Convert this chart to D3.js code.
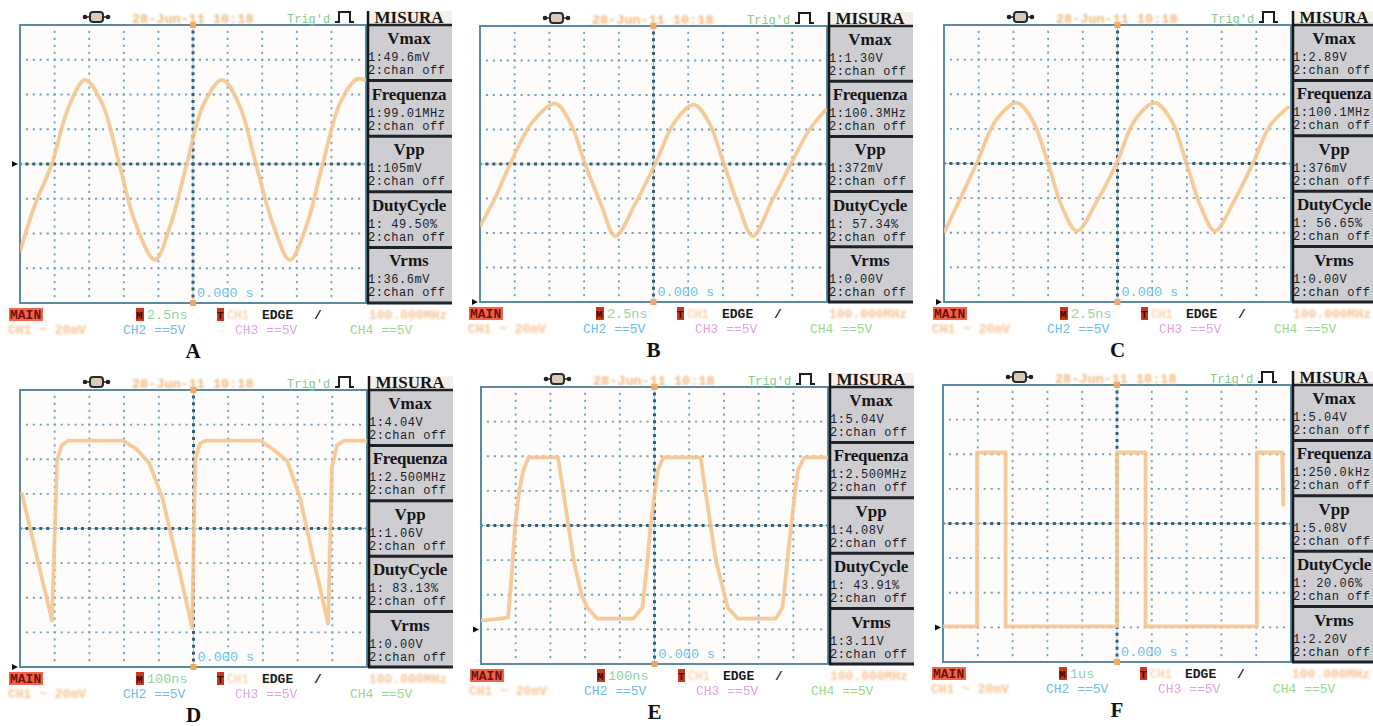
<!DOCTYPE html>
<html><head><meta charset="utf-8">
<script src="https://cdn.jsdelivr.net/npm/d3@7"></script>
<style>body{margin:0;background:#fff;} svg{display:block}</style>
</head><body>
<svg id="chart" width="1373" height="726"></svg>
<script>
// ---------- DATA ----------
const panelLabels = ["A","B","C","D","E","F"];
const timebases = ["2.5ns","2.5ns","2.5ns","100ns","100ns","1us"];
const measureTitles = ["Vmax","Frequenza","Vpp","DutyCycle","Vrms"];
const vmaxValues = ["1:49.6mV","1:1.30V","1:2.89V","1:4.04V","1:5.04V","1:5.04V"];
const freqValues = ["1:99.01MHz","1:100.3MHz","1:100.1MHz","1:2.500MHz","1:2.500MHz","1:250.0kHz"];
const vppValues = ["1:105mV","1:372mV","1:376mV","1:1.06V","1:4.08V","1:5.08V"];
const dutyValues = ["1: 49.50%","1: 57.34%","1: 56.65%","1: 83.13%","1: 43.91%","1: 20.06%"];
const vrmsValues = ["1:36.6mV","1:0.00V","1:0.00V","1:0.00V","1:3.11V","1:2.20V"];
const chanOffText = "2:chan off";
const ch1Levels = [0,-4,-4,-4,-3,-3];
const trigLevels = [0,0,0,0,0.5,0.5];
const dateText = "28-Jun-11 10:18";
const trigText = "Trig'd";
const ch2Text = "CH2 ==5V", ch3Text = "CH3 ==5V", ch4Text = "CH4 ==5V";
const ch1Text = "CH1 ~ 20mV";
const trigFreqText = "100.000MHz";
const timeText = "0.000 s";

// waveforms: [time division 0..10, vertical division -4..4]
const waveA = [[0,-2.53],[0.43,-1.18],[0.92,0],[1.39,1.6],[1.88,2.42],[2.37,1.75],[2.87,0],[3.3,-1.6],[3.9,-2.76],[4.35,-1.75],[4.82,0],[5.3,1.7],[5.84,2.42],[6.33,1.72],[6.82,0],[7.3,-1.7],[7.8,-2.76],[8.27,-1.8],[8.75,0],[9.25,1.75],[9.75,2.45],[10,2.4]];
const waveB = [[0,-1.81],[0.45,-0.95],[0.87,0],[1.5,1.2],[2.17,1.75],[2.6,1.2],[3.03,0],[3.5,-1.2],[3.9,-2.09],[4.5,-1.1],[5.05,0],[5.6,1.2],[6.16,1.72],[6.6,1.2],[7.03,0],[7.45,-1.2],[7.86,-2.09],[8.4,-1.1],[8.96,0],[9.5,1.0],[10,1.6]];
const waveC = [[0,-2.0],[0.45,-1.05],[0.94,0],[1.5,1.25],[2.1,1.75],[2.55,1.25],[3.0,0],[3.4,-1.25],[3.83,-1.95],[4.4,-1.1],[4.97,0],[5.5,1.25],[6.08,1.75],[6.55,1.25],[6.99,0],[7.4,-1.25],[7.81,-1.95],[8.35,-1.1],[8.9,0],[9.4,1.1],[9.95,1.65]];
const waveD = [[0.05,1.04],[0.92,-2.66],[1.07,1.97],[1.2,2.4],[1.4,2.54],[2.97,2.54],[3.35,2.3],[3.72,1.9],[4.1,0.9],[4.5,-0.8],[4.96,-2.86],[5.05,1.97],[5.18,2.45],[5.35,2.54],[6.92,2.54],[7.3,2.28],[7.7,1.95],[8.07,0.9],[8.45,-0.85],[8.88,-2.75],[8.99,1.76],[9.13,2.4],[9.35,2.54],[10,2.54]];
const waveE = [[0,-2.75],[0.3,-2.72],[0.78,-2.66],[0.88,-1.5],[0.98,-0.06],[1.1,1.0],[1.22,1.59],[1.37,1.97],[2.22,1.97],[2.38,0.92],[2.67,-1.01],[2.9,-2.0],[3.06,-2.37],[3.35,-2.69],[4.39,-2.69],[4.65,-2.37],[4.78,-1.2],[4.88,-0.06],[5.09,1.59],[5.26,1.97],[6.33,1.97],[6.48,0.92],[6.77,-1.01],[7.11,-2.37],[7.4,-2.69],[8.49,-2.69],[8.69,-2.37],[8.93,-0.06],[9.13,1.59],[9.32,1.97],[10,1.97]];
const waveF = [[0,-2.97],[0.98,-2.97],[0.98,2.05],[1.8,2.05],[1.8,-2.97],[5.0,-2.97],[5.0,2.05],[5.82,2.05],[5.82,-2.97],[9.02,-2.97],[9.02,2.05],[9.75,2.05],[9.78,0.5]];
const waves = [waveA, waveB, waveC, waveD, waveE, waveF];

// ---------- LAYOUT ----------
const layout = [
  {L:20, T:25, W:346, H:278},
  {L:480, T:26, W:347, H:276},
  {L:944, T:25, W:347, H:277},
  {L:20, T:390, W:347, H:277},
  {L:481, T:387, W:347, H:277},
  {L:943, T:385, W:348, H:277}
];
const MENU_W = 85;
const mono = "'Liberation Mono','DejaVu Sans Mono',monospace";
const serif = "'Liberation Serif','DejaVu Serif',serif";

const svg = d3.select("#chart");
const defs = svg.append("defs");
defs.append("filter").attr("id","soft").append("feGaussianBlur").attr("stdDeviation",0.6);
defs.append("filter").attr("id","faded").attr("x","-10%").attr("y","-50%").attr("width","120%").attr("height","200%")
  .append("feGaussianBlur").attr("stdDeviation",1.1);

panelLabels.forEach((lab, i) => {
  const {L,T,W,H} = layout[i];
  const g = svg.append("g");
  const x = d3.scaleLinear().domain([0,10]).range([L, L+W]);
  const y = d3.scaleLinear().domain([-4,4]).range([T+H, T]);
  const cx = x(5), cy = y(0);

  g.append("rect").attr("x",L).attr("y",T).attr("width",W).attr("height",H).attr("fill","#fdfcfa");

  // grid
  const xdots = W/50, ydots = H/40;
  x.ticks(10).filter(t => t>0 && t<10 && t!==5).forEach(t => {
    g.append("line").attr("x1",x(t)).attr("x2",x(t)).attr("y1",T).attr("y2",T+H)
      .attr("stroke","#6ea6c4").attr("stroke-width",1.8)
      .attr("stroke-dasharray",`2.2,${ydots-2.2}`).attr("stroke-dashoffset",1.1);
  });
  y.ticks(8).filter(t => t>-4 && t<4 && t!==0).forEach(t => {
    g.append("line").attr("x1",L).attr("x2",L+W).attr("y1",y(t)).attr("y2",y(t))
      .attr("stroke","#6ea6c4").attr("stroke-width",1.8)
      .attr("stroke-dasharray",`2.2,${xdots-2.2}`).attr("stroke-dashoffset",1.1);
  });
  g.append("line").attr("x1",L).attr("x2",L+W).attr("y1",cy).attr("y2",cy)
    .attr("stroke","#a9c8da").attr("stroke-width",1);
  g.append("line").attr("x1",cx).attr("x2",cx).attr("y1",T).attr("y2",T+H)
    .attr("stroke","#a9c8da").attr("stroke-width",1);
  g.append("line").attr("x1",L).attr("x2",L+W).attr("y1",cy).attr("y2",cy)
    .attr("stroke","#2f617d").attr("stroke-width",3)
    .attr("stroke-dasharray",`3,${xdots-3}`).attr("stroke-dashoffset",1.5);
  g.append("line").attr("x1",cx).attr("x2",cx).attr("y1",T).attr("y2",T+H)
    .attr("stroke","#2f617d").attr("stroke-width",3)
    .attr("stroke-dasharray",`3,${ydots-3}`).attr("stroke-dashoffset",1.5);

  g.append("rect").attr("x",L).attr("y",T).attr("width",W).attr("height",H)
    .attr("fill","none").attr("stroke","#5a8aa4").attr("stroke-width",2);

  // waveform
  const clipId = "clip"+i;
  defs.append("clipPath").attr("id",clipId).append("rect").attr("x",L).attr("y",T).attr("width",W).attr("height",H);
  const curve = i < 3 ? d3.curveCatmullRom.alpha(0.5) : d3.curveLinear;
  const line = d3.line().x(d => x(d[0])).y(d => y(d[1])).curve(curve);
  g.append("path").datum(waves[i]).attr("d",line).attr("clip-path",`url(#${clipId})`)
    .attr("fill","none").attr("stroke","#f6c48f").attr("stroke-width",3.8)
    .attr("stroke-linejoin","round").attr("stroke-opacity",0.9).attr("filter","url(#soft)");

  // markers
  const gy = y(Math.max(ch1Levels[i], -4));
  g.append("line").attr("x1",L-19).attr("x2",L-6).attr("y1",gy).attr("y2",gy)
    .attr("stroke","#f6b878").attr("stroke-width",3).attr("filter","url(#soft)");
  g.append("path").attr("d",`M${L-8},${gy-3} L${L-2},${gy} L${L-8},${gy+3} Z`).attr("fill","#111");
  const ty = y(trigLevels[i]);
  g.append("path").attr("d",`M${L+W+1},${ty} l5,-4 v8 Z`).attr("fill","#f3a862").attr("filter","url(#soft)");
  g.append("rect").attr("x",cx-3).attr("y",T-3).attr("width",6).attr("height",6).attr("fill","#f3a862");
  g.append("rect").attr("x",cx-3).attr("y",T+H-3).attr("width",6).attr("height",6).attr("fill","#f3a862");

  g.append("text").attr("x",cx+4).attr("y",T+H-6).text(timeText)
    .attr("font-family",mono).attr("font-size",13.5).attr("fill","#6cc3ec");

  // top row
  const top = T-2;
  const ic = g.append("g");
  ic.append("circle").attr("cx",L+65).attr("cy",T-8).attr("r",2.3).attr("fill","#222");
  ic.append("circle").attr("cx",L+88).attr("cy",T-8).attr("r",2.3).attr("fill","#222");
  ic.append("line").attr("x1",L+65).attr("x2",L+88).attr("y1",T-8).attr("y2",T-8).attr("stroke","#222").attr("stroke-width",1.5);
  ic.append("rect").attr("x",L+70).attr("y",T-13).attr("width",13).attr("height",10).attr("rx",3)
    .attr("fill","#d8cbb8").attr("stroke","#2a2a2a").attr("stroke-width",2);
  g.append("text").attr("x",L+112).attr("y",top).text(dateText)
    .attr("font-family",mono).attr("font-size",13.5).attr("font-weight","bold").attr("fill","#f4b679").attr("filter","url(#faded)");
  g.append("text").attr("x",L+267).attr("y",top).text(trigText)
    .attr("font-family",mono).attr("font-size",12).attr("fill","#86cc8a");
  g.append("path").attr("d",`M${L+315},${T-3} h4 v-10 h11 v10 h4`)
    .attr("fill","none").attr("stroke","#1e1e1e").attr("stroke-width",2);

  // menu
  const mx = L+W+1;
  const m = g.append("g");
  m.append("rect").attr("x",mx).attr("y",T-14).attr("width",MENU_W).attr("height",14).attr("fill","#f6efe8");
  m.append("rect").attr("x",mx).attr("y",T).attr("width",MENU_W).attr("height",H).attr("fill","#cdcdd2");
  m.append("text").attr("x",mx+42).attr("y",T-2).attr("text-anchor","middle").text("MISURA")
    .attr("font-family",serif).attr("font-size",17).attr("font-weight","bold").attr("fill","#161616");
  const bh = H/5;
  const vals = [vmaxValues[i], freqValues[i], vppValues[i], dutyValues[i], vrmsValues[i]];
  measureTitles.forEach((t, k) => {
    const by = T + k*bh;
    m.append("text").attr("x",mx+42).attr("y",by+19).attr("text-anchor","middle").text(t)
      .attr("font-family",serif).attr("font-size",17).attr("font-weight","bold").attr("fill","#161616")
      .attr("letter-spacing", t.length > 6 ? -0.3 : 0);
    m.append("text").attr("x",mx+1).attr("y",by+36).text(vals[k])
      .attr("font-family",mono).attr("font-size",12).attr("letter-spacing",0.55).attr("fill","#1c1c28");
    m.append("text").attr("x",mx+1).attr("y",by+49).text(chanOffText)
      .attr("font-family",mono).attr("font-size",12).attr("letter-spacing",0.55).attr("fill","#1c1c28");
  });
  d3.range(6).forEach(k => {
    m.append("line").attr("x1",mx).attr("x2",mx+MENU_W).attr("y1",T+k*bh).attr("y2",T+k*bh)
      .attr("stroke","#1d2328").attr("stroke-width",k===0?2.5:3);
  });
  m.append("line").attr("x1",mx+1).attr("x2",mx+1).attr("y1",T-14).attr("y2",T+H)
    .attr("stroke","#15191c").attr("stroke-width",2.5);

  // bottom rows
  const r1 = T+H+16, r2 = T+H+31;
  g.append("rect").attr("x",L-11).attr("y",T+H+5).attr("width",34).attr("height",13).attr("fill","#f06548").attr("filter","url(#soft)");
  g.append("text").attr("x",L-10).attr("y",r1).text("MAIN")
    .attr("font-family",mono).attr("font-size",13).attr("font-weight","bold").attr("fill","#6e0f0a");
  g.append("rect").attr("x",L+116).attr("y",T+H+5).attr("width",8).attr("height",13).attr("fill","#c7381f");
  g.append("text").attr("x",L+116).attr("y",r1).text("M")
    .attr("font-family",mono).attr("font-size",11).attr("font-weight","bold").attr("fill","#3a0805");
  g.append("text").attr("x",L+127).attr("y",r1).text(timebases[i])
    .attr("font-family",mono).attr("font-size",13.5).attr("fill","#8fd3a4");
  g.append("rect").attr("x",L+197).attr("y",T+H+5).attr("width",7).attr("height",13).attr("fill","#c7381f");
  g.append("text").attr("x",L+197).attr("y",r1).text("T")
    .attr("font-family",mono).attr("font-size",11).attr("font-weight","bold").attr("fill","#3a0805");
  g.append("text").attr("x",L+207).attr("y",r1).text("CH1")
    .attr("font-family",mono).attr("font-size",12).attr("fill","#f6c08a").attr("filter","url(#faded)");
  g.append("text").attr("x",L+242).attr("y",r1).text("EDGE")
    .attr("font-family",mono).attr("font-size",13).attr("font-weight","bold").attr("fill","#1b1b1b");
  g.append("text").attr("x",L+294).attr("y",r1).text("/")
    .attr("font-family",mono).attr("font-size",13).attr("font-weight","bold").attr("fill","#1b1b1b");
  g.append("text").attr("x",L+349).attr("y",r1).text(trigFreqText)
    .attr("font-family",mono).attr("font-size",13).attr("font-weight","bold").attr("fill","#f8c596").attr("filter","url(#faded)");
  g.append("text").attr("x",L-12).attr("y",r2).text(ch1Text)
    .attr("font-family",mono).attr("font-size",13).attr("font-weight","bold").attr("fill","#f8c596").attr("filter","url(#faded)");
  g.append("text").attr("x",L+103).attr("y",r2).text(ch2Text)
    .attr("font-family",mono).attr("font-size",13).attr("fill","#6cbde8");
  g.append("text").attr("x",L+215).attr("y",r2).text(ch3Text)
    .attr("font-family",mono).attr("font-size",13).attr("fill","#e3a2e2").attr("filter","url(#soft)");
  g.append("text").attr("x",L+330).attr("y",r2).text(ch4Text)
    .attr("font-family",mono).attr("font-size",13).attr("fill","#97d98c");

  g.append("text").attr("x",cx).attr("y",T+H+55).attr("text-anchor","middle").text(lab)
    .attr("font-family",serif).attr("font-size",21).attr("font-weight","bold").attr("fill","#111");
});
</script>
</body></html>
